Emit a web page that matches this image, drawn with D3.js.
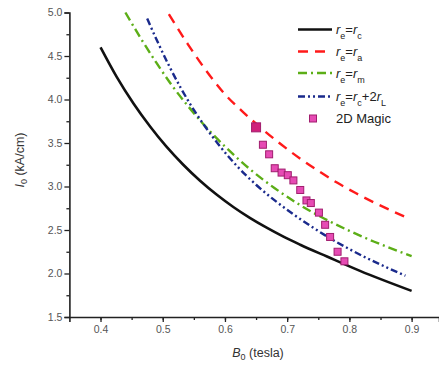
<!DOCTYPE html>
<html>
<head>
<meta charset="utf-8">
<script src="https://cdn.jsdelivr.net/npm/d3@7"></script>
<style>
  html, body { margin: 0; padding: 0; background: #fff; }
  svg { display: block; font-family: "Liberation Sans", Arial, sans-serif; }
</style>
</head>
<body>
<svg id="chart" width="439" height="366"></svg>
<script>
// Threshold current I0 (kA/cm) versus magnetic field B0 (tesla)
const bRc   = [0.40, 0.426, 0.453, 0.48, 0.506, 0.533, 0.56, 0.587, 0.614, 0.640, 0.667, 0.694, 0.721, 0.764, 0.817, 0.90];
const iRc   = [4.60, 4.26, 3.954, 3.687, 3.458, 3.25, 3.066, 2.904, 2.761, 2.639, 2.526, 2.423, 2.331, 2.195, 2.03, 1.80];

const bRa   = [0.51, 0.54, 0.57, 0.60, 0.63, 0.66, 0.69, 0.72, 0.75, 0.78, 0.81, 0.84, 0.89];
const iRa   = [4.98, 4.64, 4.33, 4.06, 3.85, 3.66, 3.485, 3.325, 3.18, 3.045, 2.925, 2.815, 2.65];

const bRm   = [0.44, 0.465, 0.49, 0.515, 0.54, 0.57, 0.60, 0.64, 0.68, 0.72, 0.76, 0.80, 0.84, 0.87, 0.90];
const iRm   = [5.00, 4.70, 4.42, 4.16, 3.93, 3.68, 3.46, 3.20, 2.98, 2.79, 2.63, 2.49, 2.365, 2.28, 2.20];

const bRcL  = [0.475, 0.49, 0.51, 0.53, 0.55, 0.57, 0.59, 0.62, 0.65, 0.68, 0.71, 0.74, 0.77, 0.80, 0.83, 0.86, 0.89];
const iRcL  = [4.93, 4.69, 4.39, 4.12, 3.88, 3.67, 3.48, 3.23, 3.02, 2.84, 2.68, 2.535, 2.40, 2.28, 2.17, 2.07, 1.975];

const bMagic = [0.650, 0.661, 0.671, 0.680, 0.691, 0.701, 0.710, 0.721, 0.731, 0.738, 0.751, 0.761, 0.769, 0.781, 0.792];
const iMagic = [3.68, 3.48, 3.37, 3.21, 3.16, 3.13, 3.07, 2.96, 2.84, 2.81, 2.70, 2.56, 2.42, 2.25, 2.14];

const xTicks = [0.4, 0.5, 0.6, 0.7, 0.8, 0.9];
const yTicks = [1.5, 2.0, 2.5, 3.0, 3.5, 4.0, 4.5, 5.0];

// Legend labels: pieces of [text, kind] where kind is "i" italic, "s" subscript, "n" normal
const legendLabels = [
  [["r", "i"], ["e", "s"], ["=", "n"], ["r", "i"], ["c", "s"]],
  [["r", "i"], ["e", "s"], ["=", "n"], ["r", "i"], ["a", "s"]],
  [["r", "i"], ["e", "s"], ["=", "n"], ["r", "i"], ["m", "s"]],
  [["r", "i"], ["e", "s"], ["=", "n"], ["r", "i"], ["c", "s"], ["+2", "n"], ["r", "i"], ["L", "s"]],
  [["2D Magic", "n"]]
];

const svg = d3.select("#chart");

const x = d3.scaleLinear().domain([0.35, 0.944]).range([69.4, 439]);
const y = d3.scaleLinear().domain([1.5, 5.0]).range([317, 12.5]);

// Axes
const axisColor = "#222";
const labelColor = "#555";

const minorX = d3.range(0.35, 0.95, 0.05).filter(v => Math.abs(v - 0.35) > 1e-6);
const minorY = d3.range(1.75, 5.0, 0.5);

svg.append("g").attr("transform", `translate(0,${y(1.5)})`)
  .call(d3.axisBottom(x).tickValues(xTicks).tickFormat(d3.format(".1f")).tickSizeOuter(0).tickSize(5).tickPadding(4));
svg.append("g").attr("transform", `translate(0,${y(1.5)})`)
  .call(d3.axisBottom(x).tickValues(minorX).tickFormat("").tickSizeOuter(0).tickSize(3))
  .select(".domain").remove();

svg.append("g").attr("transform", `translate(${x(0.35)},0)`)
  .call(d3.axisLeft(y).tickValues(yTicks).tickFormat(d3.format(".1f")).tickSizeOuter(0).tickSize(5).tickPadding(2));
svg.append("g").attr("transform", `translate(${x(0.35)},0)`)
  .call(d3.axisLeft(y).tickValues(minorY).tickFormat("").tickSizeOuter(0).tickSize(3))
  .select(".domain").remove();

svg.selectAll(".domain").attr("stroke", axisColor).attr("stroke-width", 1.6);
svg.selectAll(".tick line").attr("stroke", axisColor).attr("stroke-width", 1.3);
svg.selectAll(".tick text").attr("fill", labelColor).attr("font-size", 10.5)
  .attr("font-family", "'Liberation Sans', Arial, sans-serif");

// Axis titles
const xt = svg.append("text").attr("x", 258).attr("y", 357).attr("text-anchor", "middle")
  .attr("font-size", 12.5).attr("fill", "#333");
xt.append("tspan").attr("font-style", "italic").text("B");
xt.append("tspan").attr("font-size", 9).attr("dy", 3).text("0");
xt.append("tspan").attr("dy", -3).text(" (tesla)");

const yt = svg.append("text").attr("transform", "translate(24,160) rotate(-90)")
  .attr("text-anchor", "middle").attr("font-size", 12.5).attr("fill", "#333");
yt.append("tspan").attr("font-style", "italic").text("I");
yt.append("tspan").attr("font-size", 9).attr("dy", 3).text("0");
yt.append("tspan").attr("dy", -3).text(" (kA/cm)");

// Curves
const series = [
  { b: bRc,  v: iRc,  color: "#111111", dash: null,               width: 2.6 },
  { b: bRa,  v: iRa,  color: "#ff1a1a", dash: "10,7",             width: 2.4 },
  { b: bRm,  v: iRm,  color: "#5cae17", dash: "9,4,2,4",          width: 2.4 },
  { b: bRcL, v: iRcL, color: "#1a2a8c", dash: "7,3,2,3,2,3",      width: 2.4 }
];

const line = d3.line().x(d => x(d[0])).y(d => y(d[1])).curve(d3.curveMonotoneX);

series.forEach(s => {
  svg.append("path")
    .datum(s.b.map((b, i) => [b, s.v[i]]))
    .attr("d", line)
    .attr("fill", "none")
    .attr("stroke", s.color)
    .attr("stroke-width", s.width)
    .attr("stroke-dasharray", s.dash);
});

// 2D Magic points
const magic = bMagic.map((b, i) => [b, iMagic[i]]);
svg.selectAll("rect.magic").data(magic).enter().append("rect")
  .attr("class", "magic")
  .attr("x", (d, i) => x(d[0]) - (i === 0 ? 4.5 : 3.5))
  .attr("y", (d, i) => y(d[1]) - (i === 0 ? 4.5 : 3.5))
  .attr("width", (d, i) => i === 0 ? 9 : 7)
  .attr("height", (d, i) => i === 0 ? 9 : 7)
  .attr("fill", (d, i) => i === 0 ? "#d0207a" : "#e64bb4")
  .attr("stroke", "#a11d6e")
  .attr("stroke-width", 1);

// Legend
const legendRows = [29.5, 51.5, 73, 96.5, 118.5];
const legendX0 = 298, legendX1 = 332, legendTextX = 336;

series.forEach((s, i) => {
  svg.append("line")
    .attr("x1", legendX0).attr("x2", legendX1)
    .attr("y1", legendRows[i]).attr("y2", legendRows[i])
    .attr("stroke", s.color).attr("stroke-width", s.width)
    .attr("stroke-dasharray", s.dash);
});
svg.append("rect")
  .attr("x", 313 - 3.5).attr("y", legendRows[4] - 3.5)
  .attr("width", 7).attr("height", 7)
  .attr("fill", "#e64bb4").attr("stroke", "#a11d6e").attr("stroke-width", 1);

legendLabels.forEach((parts, i) => {
  const t = svg.append("text").attr("x", legendTextX).attr("y", legendRows[i] + 4.5)
    .attr("font-size", 13).attr("fill", "#222");
  let sub = false;
  parts.forEach(([txt, kind]) => {
    const ts = t.append("tspan").text(txt);
    if (kind === "i") ts.attr("font-style", "italic");
    if (kind === "s") {
      ts.attr("font-size", 9).attr("dy", sub ? 0 : 5);
      sub = true;
    } else if (sub) {
      ts.attr("dy", -5);
      sub = false;
    }
  });
});
</script>
</body>
</html>
